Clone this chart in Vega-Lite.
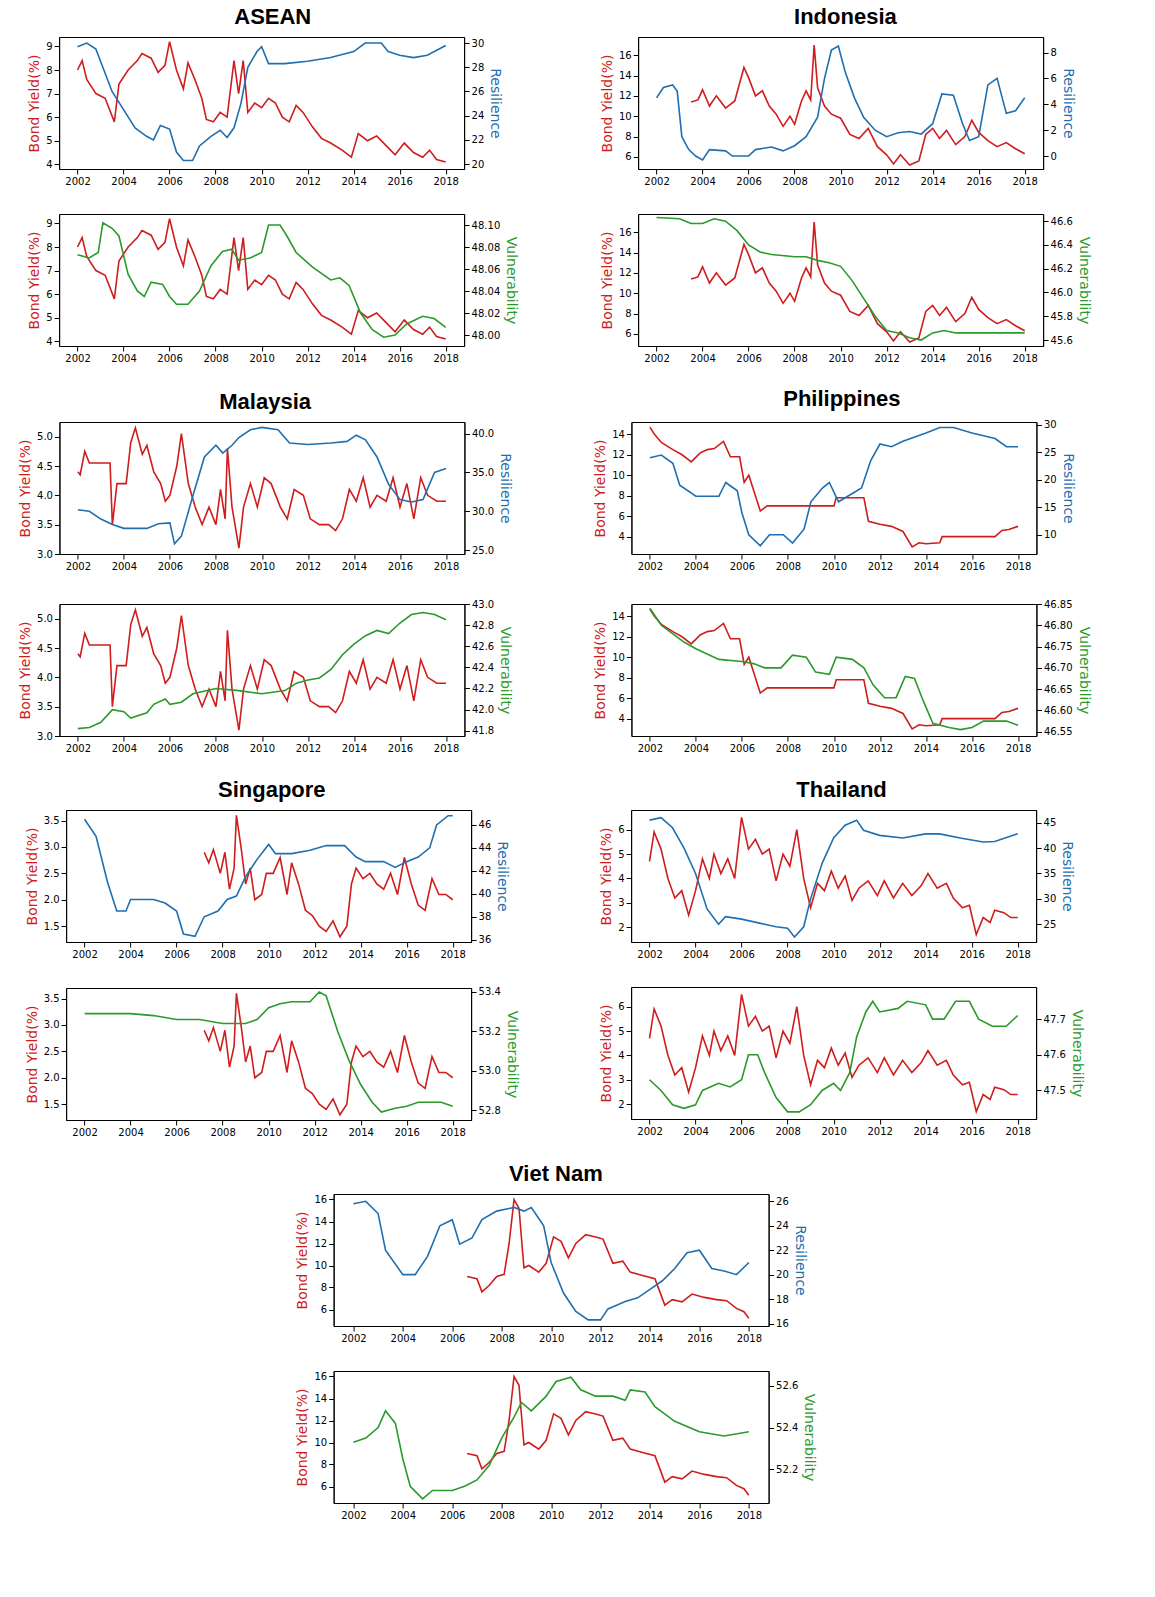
{
  "$schema": "https://vega.github.io/schema/vega-lite/v6.json",
  "background": "white",
  "padding": {"left": 18, "top": 5, "right": 5, "bottom": 5},
  "datasets": {
    "Ay": [{"t":2002,"v":8.0},{"t":2002.2,"v":8.4},{"t":2002.4,"v":7.6},{"t":2002.8,"v":7.0},{"t":2003.2,"v":6.8},{"t":2003.6,"v":5.8},{"t":2003.8,"v":7.4},{"t":2004.2,"v":8.0},{"t":2004.6,"v":8.4},{"t":2004.8,"v":8.7},{"t":2005.2,"v":8.5},{"t":2005.5,"v":7.9},{"t":2005.8,"v":8.2},{"t":2006.0,"v":9.2},{"t":2006.3,"v":8.0},{"t":2006.6,"v":7.2},{"t":2006.8,"v":8.3},{"t":2007.1,"v":7.6},{"t":2007.4,"v":6.8},{"t":2007.6,"v":5.9},{"t":2007.9,"v":5.8},{"t":2008.2,"v":6.2},{"t":2008.5,"v":6.0},{"t":2008.8,"v":8.4},{"t":2009.0,"v":7.0},{"t":2009.2,"v":8.4},{"t":2009.4,"v":6.2},{"t":2009.7,"v":6.6},{"t":2010.0,"v":6.4},{"t":2010.3,"v":6.8},{"t":2010.6,"v":6.6},{"t":2010.9,"v":6.0},{"t":2011.2,"v":5.8},{"t":2011.5,"v":6.5},{"t":2011.8,"v":6.2},{"t":2012.2,"v":5.6},{"t":2012.6,"v":5.1},{"t":2013.0,"v":4.9},{"t":2013.5,"v":4.6},{"t":2013.9,"v":4.3},{"t":2014.2,"v":5.3},{"t":2014.6,"v":5.0},{"t":2015.0,"v":5.2},{"t":2015.4,"v":4.8},{"t":2015.8,"v":4.4},{"t":2016.2,"v":4.9},{"t":2016.6,"v":4.5},{"t":2017.0,"v":4.3},{"t":2017.3,"v":4.6},{"t":2017.6,"v":4.2},{"t":2018.0,"v":4.1}],
    "Ar": [{"t":2002,"v":29.7},{"t":2002.4,"v":30},{"t":2002.8,"v":29.5},{"t":2003,"v":28.5},{"t":2003.5,"v":26},{"t":2004,"v":24.5},{"t":2004.5,"v":23},{"t":2005,"v":22.3},{"t":2005.3,"v":22},{"t":2005.6,"v":23.2},{"t":2006,"v":22.9},{"t":2006.3,"v":21},{"t":2006.6,"v":20.3},{"t":2007,"v":20.3},{"t":2007.3,"v":21.5},{"t":2007.8,"v":22.3},{"t":2008.2,"v":22.8},{"t":2008.5,"v":22.2},{"t":2008.8,"v":23},{"t":2009.1,"v":25},{"t":2009.4,"v":28},{"t":2009.8,"v":29.3},{"t":2010,"v":29.7},{"t":2010.3,"v":28.3},{"t":2011,"v":28.3},{"t":2012,"v":28.5},{"t":2013,"v":28.8},{"t":2014,"v":29.3},{"t":2014.5,"v":30},{"t":2015.2,"v":30},{"t":2015.5,"v":29.3},{"t":2016,"v":29},{"t":2016.6,"v":28.8},{"t":2017.2,"v":29},{"t":2018,"v":29.8}],
    "Au": [{"t":2002,"v":48.073},{"t":2002.5,"v":48.07},{"t":2002.9,"v":48.075},{"t":2003.1,"v":48.102},{"t":2003.5,"v":48.097},{"t":2003.8,"v":48.09},{"t":2004.2,"v":48.055},{"t":2004.6,"v":48.04},{"t":2004.9,"v":48.035},{"t":2005.2,"v":48.048},{"t":2005.7,"v":48.046},{"t":2006,"v":48.035},{"t":2006.3,"v":48.028},{"t":2006.8,"v":48.028},{"t":2007.3,"v":48.04},{"t":2007.8,"v":48.063},{"t":2008.3,"v":48.076},{"t":2008.7,"v":48.078},{"t":2009,"v":48.068},{"t":2009.5,"v":48.07},{"t":2010,"v":48.075},{"t":2010.3,"v":48.1},{"t":2010.8,"v":48.1},{"t":2011.1,"v":48.09},{"t":2011.5,"v":48.075},{"t":2012.2,"v":48.062},{"t":2013,"v":48.05},{"t":2013.4,"v":48.052},{"t":2013.8,"v":48.045},{"t":2014.3,"v":48.02},{"t":2014.8,"v":48.005},{"t":2015.3,"v":47.998},{"t":2015.8,"v":48.0},{"t":2016.3,"v":48.01},{"t":2017,"v":48.017},{"t":2017.5,"v":48.015},{"t":2018,"v":48.007}],
    "Iy": [{"t":2003.5,"v":11.4},{"t":2003.8,"v":11.6},{"t":2004.0,"v":12.6},{"t":2004.3,"v":11.0},{"t":2004.6,"v":12.0},{"t":2005.0,"v":10.8},{"t":2005.4,"v":11.5},{"t":2005.8,"v":14.8},{"t":2006.0,"v":13.8},{"t":2006.3,"v":12.0},{"t":2006.6,"v":12.5},{"t":2006.9,"v":11.0},{"t":2007.2,"v":10.2},{"t":2007.5,"v":9.0},{"t":2007.8,"v":10.0},{"t":2008.0,"v":9.2},{"t":2008.3,"v":11.5},{"t":2008.5,"v":12.5},{"t":2008.7,"v":11.6},{"t":2008.85,"v":17.0},{"t":2009.0,"v":12.8},{"t":2009.3,"v":11.0},{"t":2009.6,"v":10.2},{"t":2010,"v":9.8},{"t":2010.4,"v":8.2},{"t":2010.8,"v":7.8},{"t":2011.2,"v":8.8},{"t":2011.6,"v":7.0},{"t":2012.0,"v":6.2},{"t":2012.3,"v":5.3},{"t":2012.6,"v":6.2},{"t":2013.0,"v":5.2},{"t":2013.4,"v":5.6},{"t":2013.7,"v":8.2},{"t":2014.0,"v":8.8},{"t":2014.3,"v":7.8},{"t":2014.6,"v":8.6},{"t":2015.0,"v":7.2},{"t":2015.4,"v":8.0},{"t":2015.7,"v":9.6},{"t":2016.0,"v":8.4},{"t":2016.4,"v":7.6},{"t":2016.8,"v":7.0},{"t":2017.2,"v":7.4},{"t":2017.6,"v":6.8},{"t":2018,"v":6.3}],
    "Ir": [{"t":2002,"v":4.5},{"t":2002.3,"v":5.3},{"t":2002.7,"v":5.5},{"t":2002.9,"v":5.0},{"t":2003.1,"v":1.5},{"t":2003.4,"v":0.5},{"t":2003.7,"v":0},{"t":2004.0,"v":-0.3},{"t":2004.3,"v":0.5},{"t":2005,"v":0.4},{"t":2005.3,"v":0},{"t":2006,"v":0},{"t":2006.3,"v":0.5},{"t":2007,"v":0.7},{"t":2007.5,"v":0.4},{"t":2008,"v":0.8},{"t":2008.5,"v":1.5},{"t":2009,"v":3.0},{"t":2009.3,"v":6},{"t":2009.6,"v":8.2},{"t":2009.9,"v":8.5},{"t":2010.2,"v":6.5},{"t":2010.6,"v":4.5},{"t":2011,"v":3.0},{"t":2011.5,"v":2.0},{"t":2012,"v":1.5},{"t":2012.5,"v":1.8},{"t":2013,"v":1.9},{"t":2013.5,"v":1.7},{"t":2014,"v":2.5},{"t":2014.4,"v":4.8},{"t":2014.9,"v":4.7},{"t":2015.3,"v":2.5},{"t":2015.6,"v":1.2},{"t":2016,"v":1.5},{"t":2016.4,"v":5.5},{"t":2016.8,"v":6},{"t":2017.2,"v":3.3},{"t":2017.6,"v":3.5},{"t":2018,"v":4.5}],
    "Iu": [{"t":2002,"v":46.63},{"t":2003,"v":46.62},{"t":2003.5,"v":46.58},{"t":2004,"v":46.58},{"t":2004.5,"v":46.62},{"t":2005,"v":46.6},{"t":2005.5,"v":46.52},{"t":2006,"v":46.4},{"t":2006.5,"v":46.34},{"t":2007,"v":46.32},{"t":2008,"v":46.3},{"t":2008.5,"v":46.3},{"t":2009,"v":46.27},{"t":2009.5,"v":46.25},{"t":2010,"v":46.22},{"t":2010.5,"v":46.1},{"t":2011,"v":45.95},{"t":2011.5,"v":45.8},{"t":2012,"v":45.68},{"t":2012.5,"v":45.66},{"t":2013,"v":45.62},{"t":2013.5,"v":45.6},{"t":2014,"v":45.66},{"t":2014.5,"v":45.68},{"t":2015,"v":45.66},{"t":2016,"v":45.66},{"t":2018,"v":45.66}],
    "My": [{"t":2002,"v":4.4},{"t":2002.1,"v":4.35},{"t":2002.3,"v":4.75},{"t":2002.5,"v":4.55},{"t":2003.4,"v":4.55},{"t":2003.5,"v":3.5},{"t":2003.7,"v":4.2},{"t":2004.1,"v":4.2},{"t":2004.3,"v":4.9},{"t":2004.5,"v":5.15},{"t":2004.8,"v":4.7},{"t":2005,"v":4.85},{"t":2005.3,"v":4.4},{"t":2005.6,"v":4.2},{"t":2005.8,"v":3.9},{"t":2006.0,"v":4.0},{"t":2006.3,"v":4.5},{"t":2006.5,"v":5.05},{"t":2006.8,"v":4.2},{"t":2007.1,"v":3.8},{"t":2007.4,"v":3.5},{"t":2007.7,"v":3.8},{"t":2008,"v":3.5},{"t":2008.2,"v":4.1},{"t":2008.4,"v":3.6},{"t":2008.5,"v":4.8},{"t":2008.7,"v":3.8},{"t":2009.0,"v":3.1},{"t":2009.2,"v":3.8},{"t":2009.5,"v":4.2},{"t":2009.8,"v":3.8},{"t":2010.1,"v":4.3},{"t":2010.4,"v":4.2},{"t":2010.8,"v":3.8},{"t":2011.1,"v":3.6},{"t":2011.4,"v":4.1},{"t":2011.8,"v":4.0},{"t":2012.1,"v":3.6},{"t":2012.5,"v":3.5},{"t":2012.9,"v":3.5},{"t":2013.2,"v":3.4},{"t":2013.5,"v":3.6},{"t":2013.8,"v":4.1},{"t":2014.1,"v":3.9},{"t":2014.4,"v":4.3},{"t":2014.7,"v":3.8},{"t":2015.0,"v":4.0},{"t":2015.4,"v":3.9},{"t":2015.7,"v":4.3},{"t":2016.0,"v":3.8},{"t":2016.3,"v":4.2},{"t":2016.6,"v":3.6},{"t":2016.9,"v":4.3},{"t":2017.2,"v":4.0},{"t":2017.6,"v":3.9},{"t":2018,"v":3.9}],
    "Mr": [{"t":2002,"v":30.2},{"t":2002.5,"v":30},{"t":2003,"v":29},{"t":2003.5,"v":28.3},{"t":2004,"v":27.8},{"t":2005,"v":27.8},{"t":2005.5,"v":28.4},{"t":2006,"v":28.5},{"t":2006.2,"v":25.8},{"t":2006.5,"v":26.8},{"t":2007,"v":32},{"t":2007.5,"v":37},{"t":2008,"v":38.5},{"t":2008.3,"v":37.5},{"t":2008.7,"v":38.5},{"t":2009,"v":39.5},{"t":2009.5,"v":40.5},{"t":2010,"v":40.8},{"t":2010.7,"v":40.5},{"t":2011.2,"v":38.8},{"t":2012,"v":38.6},{"t":2013,"v":38.8},{"t":2013.7,"v":39},{"t":2014.1,"v":39.8},{"t":2014.5,"v":39.2},{"t":2015,"v":37},{"t":2015.5,"v":33.5},{"t":2016,"v":31.5},{"t":2016.5,"v":31.2},{"t":2017,"v":31.5},{"t":2017.5,"v":35},{"t":2018,"v":35.5}],
    "Mu": [{"t":2002,"v":41.82},{"t":2002.5,"v":41.83},{"t":2003,"v":41.88},{"t":2003.5,"v":42.0},{"t":2004,"v":41.98},{"t":2004.3,"v":41.92},{"t":2005,"v":41.97},{"t":2005.3,"v":42.05},{"t":2005.8,"v":42.1},{"t":2006,"v":42.05},{"t":2006.5,"v":42.07},{"t":2007,"v":42.15},{"t":2008,"v":42.2},{"t":2009,"v":42.18},{"t":2010,"v":42.15},{"t":2011,"v":42.18},{"t":2011.5,"v":42.25},{"t":2012,"v":42.28},{"t":2012.5,"v":42.3},{"t":2013,"v":42.38},{"t":2013.5,"v":42.52},{"t":2014,"v":42.62},{"t":2014.5,"v":42.7},{"t":2015,"v":42.75},{"t":2015.5,"v":42.72},{"t":2016,"v":42.82},{"t":2016.5,"v":42.9},{"t":2017,"v":42.92},{"t":2017.5,"v":42.9},{"t":2018,"v":42.85}],
    "Py": [{"t":2002,"v":14.7},{"t":2002.2,"v":14.0},{"t":2002.5,"v":13.2},{"t":2003,"v":12.5},{"t":2003.4,"v":12.0},{"t":2003.8,"v":11.3},{"t":2004.2,"v":12.2},{"t":2004.5,"v":12.5},{"t":2004.8,"v":12.6},{"t":2005.2,"v":13.3},{"t":2005.5,"v":11.8},{"t":2005.9,"v":11.8},{"t":2006.1,"v":9.3},{"t":2006.3,"v":10.0},{"t":2006.5,"v":8.6},{"t":2006.8,"v":6.5},{"t":2007.1,"v":7.0},{"t":2010.0,"v":7.0},{"t":2010.1,"v":7.8},{"t":2011.3,"v":7.8},{"t":2011.5,"v":5.5},{"t":2012,"v":5.2},{"t":2012.5,"v":5.0},{"t":2013,"v":4.5},{"t":2013.4,"v":3.0},{"t":2013.7,"v":3.4},{"t":2014.0,"v":3.3},{"t":2014.6,"v":3.4},{"t":2014.7,"v":4.0},{"t":2017.0,"v":4.0},{"t":2017.3,"v":4.6},{"t":2017.6,"v":4.7},{"t":2018,"v":5.0}],
    "Pr": [{"t":2002,"v":24},{"t":2002.5,"v":24.5},{"t":2003,"v":23},{"t":2003.3,"v":19},{"t":2004,"v":17},{"t":2005,"v":17},{"t":2005.3,"v":19.5},{"t":2005.8,"v":18},{"t":2006,"v":14},{"t":2006.3,"v":10},{"t":2006.8,"v":8},{"t":2007.2,"v":10},{"t":2007.8,"v":10},{"t":2008.2,"v":8.5},{"t":2008.7,"v":11},{"t":2009,"v":16},{"t":2009.5,"v":18.5},{"t":2009.8,"v":19.5},{"t":2010.2,"v":16},{"t":2010.6,"v":17},{"t":2011.2,"v":18.5},{"t":2011.6,"v":23.5},{"t":2012,"v":26.5},{"t":2012.5,"v":26},{"t":2013,"v":27},{"t":2014,"v":28.5},{"t":2014.6,"v":29.5},{"t":2015.2,"v":29.5},{"t":2016,"v":28.5},{"t":2017,"v":27.5},{"t":2017.5,"v":26},{"t":2018,"v":26}],
    "Pu": [{"t":2002,"v":46.84},{"t":2002.5,"v":46.8},{"t":2003,"v":46.78},{"t":2003.5,"v":46.76},{"t":2004,"v":46.745},{"t":2005,"v":46.72},{"t":2006,"v":46.715},{"t":2006.5,"v":46.71},{"t":2007,"v":46.7},{"t":2007.7,"v":46.7},{"t":2008.2,"v":46.73},{"t":2008.8,"v":46.725},{"t":2009.2,"v":46.69},{"t":2009.8,"v":46.685},{"t":2010.1,"v":46.725},{"t":2010.8,"v":46.72},{"t":2011.3,"v":46.7},{"t":2011.7,"v":46.66},{"t":2012.2,"v":46.63},{"t":2012.7,"v":46.63},{"t":2013.1,"v":46.68},{"t":2013.5,"v":46.675},{"t":2013.9,"v":46.62},{"t":2014.3,"v":46.57},{"t":2015,"v":46.56},{"t":2015.5,"v":46.555},{"t":2016,"v":46.56},{"t":2016.5,"v":46.575},{"t":2017.5,"v":46.575},{"t":2018,"v":46.565}],
    "Sy": [{"t":2007.2,"v":2.9},{"t":2007.4,"v":2.7},{"t":2007.6,"v":2.95},{"t":2007.9,"v":2.5},{"t":2008.1,"v":2.9},{"t":2008.3,"v":2.2},{"t":2008.5,"v":2.6},{"t":2008.6,"v":3.6},{"t":2008.8,"v":3.0},{"t":2009.0,"v":2.3},{"t":2009.2,"v":2.6},{"t":2009.4,"v":2.0},{"t":2009.7,"v":2.1},{"t":2009.9,"v":2.5},{"t":2010.2,"v":2.5},{"t":2010.5,"v":2.8},{"t":2010.8,"v":2.1},{"t":2011.0,"v":2.7},{"t":2011.3,"v":2.3},{"t":2011.6,"v":1.8},{"t":2011.9,"v":1.7},{"t":2012.2,"v":1.5},{"t":2012.5,"v":1.4},{"t":2012.8,"v":1.6},{"t":2013.1,"v":1.3},{"t":2013.4,"v":1.5},{"t":2013.6,"v":2.3},{"t":2013.8,"v":2.6},{"t":2014.1,"v":2.4},{"t":2014.4,"v":2.5},{"t":2014.7,"v":2.3},{"t":2015.0,"v":2.2},{"t":2015.3,"v":2.5},{"t":2015.6,"v":2.1},{"t":2015.9,"v":2.8},{"t":2016.2,"v":2.3},{"t":2016.5,"v":1.9},{"t":2016.8,"v":1.8},{"t":2017.1,"v":2.4},{"t":2017.4,"v":2.1},{"t":2017.7,"v":2.1},{"t":2018,"v":2.0}],
    "Sr": [{"t":2002,"v":46.5},{"t":2002.5,"v":45},{"t":2003,"v":41},{"t":2003.4,"v":38.5},{"t":2003.8,"v":38.5},{"t":2004,"v":39.5},{"t":2005,"v":39.5},{"t":2005.5,"v":39.2},{"t":2006,"v":38.5},{"t":2006.3,"v":36.5},{"t":2006.8,"v":36.3},{"t":2007.2,"v":38},{"t":2007.8,"v":38.5},{"t":2008.2,"v":39.5},{"t":2008.6,"v":39.8},{"t":2009,"v":41.5},{"t":2009.5,"v":43},{"t":2010,"v":44.3},{"t":2010.3,"v":43.5},{"t":2011,"v":43.5},{"t":2011.8,"v":43.8},{"t":2012.5,"v":44.2},{"t":2013.3,"v":44.2},{"t":2013.8,"v":43.2},{"t":2014.2,"v":42.8},{"t":2015,"v":42.8},{"t":2015.5,"v":42.3},{"t":2016,"v":42.8},{"t":2016.5,"v":43.2},{"t":2017,"v":44},{"t":2017.3,"v":46},{"t":2017.8,"v":46.8},{"t":2018,"v":46.8}],
    "Su": [{"t":2002,"v":53.29},{"t":2004,"v":53.29},{"t":2005,"v":53.28},{"t":2006,"v":53.26},{"t":2007,"v":53.26},{"t":2008,"v":53.24},{"t":2009,"v":53.24},{"t":2009.5,"v":53.26},{"t":2010,"v":53.32},{"t":2010.5,"v":53.34},{"t":2011,"v":53.35},{"t":2011.8,"v":53.35},{"t":2012.2,"v":53.4},{"t":2012.5,"v":53.38},{"t":2013,"v":53.2},{"t":2013.5,"v":53.05},{"t":2014,"v":52.93},{"t":2014.5,"v":52.84},{"t":2014.9,"v":52.79},{"t":2015.5,"v":52.81},{"t":2016,"v":52.82},{"t":2016.5,"v":52.84},{"t":2017.5,"v":52.84},{"t":2018,"v":52.82}],
    "Ty": [{"t":2002,"v":4.7},{"t":2002.2,"v":5.9},{"t":2002.5,"v":5.2},{"t":2002.8,"v":4.0},{"t":2003.1,"v":3.2},{"t":2003.4,"v":3.5},{"t":2003.7,"v":2.5},{"t":2004,"v":3.5},{"t":2004.3,"v":4.8},{"t":2004.6,"v":4.0},{"t":2004.8,"v":5.0},{"t":2005.1,"v":4.2},{"t":2005.4,"v":4.8},{"t":2005.7,"v":4.0},{"t":2006.0,"v":6.5},{"t":2006.3,"v":5.2},{"t":2006.6,"v":5.6},{"t":2006.9,"v":5.0},{"t":2007.2,"v":5.2},{"t":2007.5,"v":3.9},{"t":2007.8,"v":5.0},{"t":2008.1,"v":4.5},{"t":2008.4,"v":6.0},{"t":2008.7,"v":4.0},{"t":2009,"v":2.8},{"t":2009.3,"v":3.8},{"t":2009.6,"v":3.5},{"t":2009.9,"v":4.3},{"t":2010.2,"v":3.6},{"t":2010.5,"v":4.1},{"t":2010.8,"v":3.1},{"t":2011.1,"v":3.6},{"t":2011.5,"v":3.9},{"t":2011.9,"v":3.3},{"t":2012.2,"v":3.9},{"t":2012.6,"v":3.2},{"t":2013.0,"v":3.8},{"t":2013.4,"v":3.3},{"t":2013.8,"v":3.7},{"t":2014.1,"v":4.2},{"t":2014.5,"v":3.6},{"t":2014.9,"v":3.8},{"t":2015.2,"v":3.2},{"t":2015.6,"v":2.8},{"t":2015.9,"v":2.9},{"t":2016.2,"v":1.7},{"t":2016.5,"v":2.4},{"t":2016.8,"v":2.2},{"t":2017.0,"v":2.7},{"t":2017.4,"v":2.6},{"t":2017.7,"v":2.4},{"t":2018,"v":2.4}],
    "Tr": [{"t":2002,"v":45.5},{"t":2002.5,"v":46},{"t":2003,"v":44},{"t":2003.5,"v":40},{"t":2004,"v":35},{"t":2004.5,"v":28},{"t":2005,"v":25},{"t":2005.3,"v":26.5},{"t":2006,"v":26},{"t":2007,"v":25},{"t":2007.5,"v":24.5},{"t":2008,"v":24.2},{"t":2008.3,"v":22.5},{"t":2008.7,"v":24.5},{"t":2009,"v":30},{"t":2009.5,"v":37},{"t":2010,"v":42},{"t":2010.5,"v":44.5},{"t":2011,"v":45.5},{"t":2011.3,"v":43.5},{"t":2012,"v":42.5},{"t":2013,"v":42},{"t":2014,"v":42.8},{"t":2014.6,"v":42.8},{"t":2015.5,"v":42},{"t":2016.5,"v":41.2},{"t":2017,"v":41.3},{"t":2018,"v":42.8}],
    "Tu": [{"t":2002,"v":47.53},{"t":2002.5,"v":47.5},{"t":2003,"v":47.46},{"t":2003.5,"v":47.45},{"t":2004,"v":47.46},{"t":2004.3,"v":47.5},{"t":2005,"v":47.52},{"t":2005.5,"v":47.51},{"t":2006,"v":47.53},{"t":2006.3,"v":47.6},{"t":2006.7,"v":47.6},{"t":2007,"v":47.55},{"t":2007.5,"v":47.48},{"t":2008,"v":47.44},{"t":2008.5,"v":47.44},{"t":2009,"v":47.46},{"t":2009.5,"v":47.5},{"t":2010,"v":47.52},{"t":2010.3,"v":47.5},{"t":2010.7,"v":47.55},{"t":2011,"v":47.65},{"t":2011.4,"v":47.72},{"t":2011.7,"v":47.75},{"t":2012,"v":47.72},{"t":2012.8,"v":47.73},{"t":2013.2,"v":47.75},{"t":2014,"v":47.74},{"t":2014.3,"v":47.7},{"t":2014.8,"v":47.7},{"t":2015.3,"v":47.75},{"t":2015.9,"v":47.75},{"t":2016.3,"v":47.7},{"t":2016.9,"v":47.68},{"t":2017.5,"v":47.68},{"t":2018,"v":47.71}],
    "Vy": [{"t":2006.6,"v":9.0},{"t":2007.0,"v":8.8},{"t":2007.2,"v":7.6},{"t":2007.5,"v":8.2},{"t":2007.8,"v":9.0},{"t":2008.1,"v":9.2},{"t":2008.3,"v":12.0},{"t":2008.5,"v":16.0},{"t":2008.7,"v":15.2},{"t":2008.9,"v":9.8},{"t":2009.1,"v":10.0},{"t":2009.5,"v":9.4},{"t":2009.8,"v":10.2},{"t":2010.1,"v":12.6},{"t":2010.4,"v":12.2},{"t":2010.7,"v":10.7},{"t":2011,"v":12.0},{"t":2011.4,"v":12.8},{"t":2011.8,"v":12.6},{"t":2012.1,"v":12.4},{"t":2012.5,"v":10.2},{"t":2012.9,"v":10.4},{"t":2013.2,"v":9.4},{"t":2013.7,"v":9.1},{"t":2014.2,"v":8.8},{"t":2014.4,"v":7.6},{"t":2014.6,"v":6.4},{"t":2014.9,"v":6.9},{"t":2015.3,"v":6.7},{"t":2015.7,"v":7.4},{"t":2016.2,"v":7.1},{"t":2016.7,"v":6.9},{"t":2017.1,"v":6.8},{"t":2017.5,"v":6.1},{"t":2017.8,"v":5.8},{"t":2018,"v":5.2}],
    "Vr": [{"t":2002,"v":25.8},{"t":2002.5,"v":26},{"t":2003,"v":25},{"t":2003.3,"v":22},{"t":2004,"v":20},{"t":2004.5,"v":20},{"t":2005,"v":21.5},{"t":2005.5,"v":24},{"t":2006,"v":24.5},{"t":2006.3,"v":22.5},{"t":2006.8,"v":23},{"t":2007.2,"v":24.5},{"t":2007.8,"v":25.2},{"t":2008.5,"v":25.5},{"t":2008.9,"v":25.2},{"t":2009.2,"v":25.5},{"t":2009.7,"v":24},{"t":2010,"v":21},{"t":2010.5,"v":18.5},{"t":2011,"v":17},{"t":2011.5,"v":16.3},{"t":2012,"v":16.3},{"t":2012.3,"v":17.2},{"t":2013,"v":17.8},{"t":2013.5,"v":18.1},{"t":2014,"v":18.8},{"t":2014.5,"v":19.5},{"t":2015,"v":20.5},{"t":2015.5,"v":21.8},{"t":2016,"v":22},{"t":2016.5,"v":20.5},{"t":2017,"v":20.3},{"t":2017.5,"v":20},{"t":2018,"v":21}],
    "Vu": [{"t":2002,"v":52.33},{"t":2002.5,"v":52.35},{"t":2003,"v":52.4},{"t":2003.3,"v":52.48},{"t":2003.7,"v":52.42},{"t":2004,"v":52.25},{"t":2004.3,"v":52.12},{"t":2004.8,"v":52.06},{"t":2005.2,"v":52.1},{"t":2006,"v":52.1},{"t":2006.5,"v":52.12},{"t":2007,"v":52.15},{"t":2007.5,"v":52.22},{"t":2008,"v":52.35},{"t":2008.5,"v":52.45},{"t":2008.8,"v":52.52},{"t":2009.2,"v":52.48},{"t":2009.8,"v":52.55},{"t":2010.2,"v":52.62},{"t":2010.8,"v":52.64},{"t":2011.2,"v":52.58},{"t":2011.8,"v":52.55},{"t":2012.5,"v":52.55},{"t":2013,"v":52.53},{"t":2013.2,"v":52.58},{"t":2013.8,"v":52.57},{"t":2014.2,"v":52.5},{"t":2015,"v":52.43},{"t":2016,"v":52.38},{"t":2017,"v":52.36},{"t":2018,"v":52.38}]
  },
  "vconcat": [
    {"hconcat": [
      {"title": "ASEAN", "spacing": 26, "vconcat": [
        {"width": 405, "height": 132, "resolve": {"scale": {"y": "independent"}}, "layer": [
          {"data": {"name": "Ay"}, "mark": {"type": "line", "color": "#d01c1c"}, "encoding": {"x": {"field": "t", "type": "quantitative", "scale": {"domain": [2001.2, 2018.8], "nice": false}, "axis": {"values": [2002,2004,2006,2008,2010,2012,2014,2016,2018], "format": "d", "title": null}}, "y": {"field": "v", "type": "quantitative", "scale": {"domain": [3.8, 9.4], "nice": false, "zero": false}, "axis": {"title": "Bond Yield(%)", "titleColor": "#d01c1c"}}}},
          {"data": {"name": "Ar"}, "mark": {"type": "line", "color": "#1f6fb0"}, "encoding": {"x": {"field": "t", "type": "quantitative"}, "y": {"field": "v", "type": "quantitative", "scale": {"domain": [19.6, 30.5], "nice": false, "zero": false}, "axis": {"orient": "right", "title": "Resilience", "titleColor": "#1f6fb0"}}}}
        ]},
        {"width": 405, "height": 132, "resolve": {"scale": {"y": "independent"}}, "layer": [
          {"data": {"name": "Ay"}, "mark": {"type": "line", "color": "#d01c1c"}, "encoding": {"x": {"field": "t", "type": "quantitative", "scale": {"domain": [2001.2, 2018.8], "nice": false}, "axis": {"values": [2002,2004,2006,2008,2010,2012,2014,2016,2018], "format": "d", "title": null}}, "y": {"field": "v", "type": "quantitative", "scale": {"domain": [3.8, 9.4], "nice": false, "zero": false}, "axis": {"title": "Bond Yield(%)", "titleColor": "#d01c1c"}}}},
          {"data": {"name": "Au"}, "mark": {"type": "line", "color": "#2a9a2a"}, "encoding": {"x": {"field": "t", "type": "quantitative"}, "y": {"field": "v", "type": "quantitative", "scale": {"domain": [47.99, 48.11], "nice": false, "zero": false}, "axis": {"orient": "right", "title": "Vulnerability", "titleColor": "#2a9a2a", "format": ".2f"}}}}
        ]}
      ]},
      {"title": "Indonesia", "spacing": 26, "vconcat": [
        {"width": 405, "height": 132, "resolve": {"scale": {"y": "independent"}}, "layer": [
          {"data": {"name": "Iy"}, "mark": {"type": "line", "color": "#d01c1c"}, "encoding": {"x": {"field": "t", "type": "quantitative", "scale": {"domain": [2001.2, 2018.8], "nice": false}, "axis": {"values": [2002,2004,2006,2008,2010,2012,2014,2016,2018], "format": "d", "title": null}}, "y": {"field": "v", "type": "quantitative", "scale": {"domain": [4.8, 17.8], "nice": false, "zero": false}, "axis": {"title": "Bond Yield(%)", "titleColor": "#d01c1c", "values": [6,8,10,12,14,16]}}}},
          {"data": {"name": "Ir"}, "mark": {"type": "line", "color": "#1f6fb0"}, "encoding": {"x": {"field": "t", "type": "quantitative"}, "y": {"field": "v", "type": "quantitative", "scale": {"domain": [-1, 9.2], "nice": false, "zero": false}, "axis": {"orient": "right", "title": "Resilience", "titleColor": "#1f6fb0"}}}}
        ]},
        {"width": 405, "height": 132, "resolve": {"scale": {"y": "independent"}}, "layer": [
          {"data": {"name": "Iy"}, "mark": {"type": "line", "color": "#d01c1c"}, "encoding": {"x": {"field": "t", "type": "quantitative", "scale": {"domain": [2001.2, 2018.8], "nice": false}, "axis": {"values": [2002,2004,2006,2008,2010,2012,2014,2016,2018], "format": "d", "title": null}}, "y": {"field": "v", "type": "quantitative", "scale": {"domain": [4.8, 17.8], "nice": false, "zero": false}, "axis": {"title": "Bond Yield(%)", "titleColor": "#d01c1c", "values": [6,8,10,12,14,16]}}}},
          {"data": {"name": "Iu"}, "mark": {"type": "line", "color": "#2a9a2a"}, "encoding": {"x": {"field": "t", "type": "quantitative"}, "y": {"field": "v", "type": "quantitative", "scale": {"domain": [45.55, 46.66], "nice": false, "zero": false}, "axis": {"orient": "right", "title": "Vulnerability", "titleColor": "#2a9a2a", "format": ".1f"}}}}
        ]}
      ]}
    ]},
    {"hconcat": [
      {"title": "Malaysia", "spacing": 26, "vconcat": [
        {"width": 405, "height": 132, "resolve": {"scale": {"y": "independent"}}, "layer": [
          {"data": {"name": "My"}, "mark": {"type": "line", "color": "#d01c1c"}, "encoding": {"x": {"field": "t", "type": "quantitative", "scale": {"domain": [2001.2, 2018.8], "nice": false}, "axis": {"values": [2002,2004,2006,2008,2010,2012,2014,2016,2018], "format": "d", "title": null}}, "y": {"field": "v", "type": "quantitative", "scale": {"domain": [3.0, 5.25], "nice": false, "zero": false}, "axis": {"title": "Bond Yield(%)", "titleColor": "#d01c1c", "format": ".1f"}}}},
          {"data": {"name": "Mr"}, "mark": {"type": "line", "color": "#1f6fb0"}, "encoding": {"x": {"field": "t", "type": "quantitative"}, "y": {"field": "v", "type": "quantitative", "scale": {"domain": [24.5, 41.5], "nice": false, "zero": false}, "axis": {"orient": "right", "title": "Resilience", "titleColor": "#1f6fb0", "format": ".1f"}}}}
        ]},
        {"width": 405, "height": 132, "resolve": {"scale": {"y": "independent"}}, "layer": [
          {"data": {"name": "My"}, "mark": {"type": "line", "color": "#d01c1c"}, "encoding": {"x": {"field": "t", "type": "quantitative", "scale": {"domain": [2001.2, 2018.8], "nice": false}, "axis": {"values": [2002,2004,2006,2008,2010,2012,2014,2016,2018], "format": "d", "title": null}}, "y": {"field": "v", "type": "quantitative", "scale": {"domain": [3.0, 5.25], "nice": false, "zero": false}, "axis": {"title": "Bond Yield(%)", "titleColor": "#d01c1c", "format": ".1f"}}}},
          {"data": {"name": "Mu"}, "mark": {"type": "line", "color": "#2a9a2a"}, "encoding": {"x": {"field": "t", "type": "quantitative"}, "y": {"field": "v", "type": "quantitative", "scale": {"domain": [41.75, 43.0], "nice": false, "zero": false}, "axis": {"orient": "right", "title": "Vulnerability", "titleColor": "#2a9a2a", "format": ".1f"}}}}
        ]}
      ]},
      {"title": "Philippines", "spacing": 26, "vconcat": [
        {"width": 405, "height": 132, "resolve": {"scale": {"y": "independent"}}, "layer": [
          {"data": {"name": "Py"}, "mark": {"type": "line", "color": "#d01c1c"}, "encoding": {"x": {"field": "t", "type": "quantitative", "scale": {"domain": [2001.2, 2018.8], "nice": false}, "axis": {"values": [2002,2004,2006,2008,2010,2012,2014,2016,2018], "format": "d", "title": null}}, "y": {"field": "v", "type": "quantitative", "scale": {"domain": [2.3, 15.2], "nice": false, "zero": false}, "axis": {"title": "Bond Yield(%)", "titleColor": "#d01c1c", "values": [4,6,8,10,12,14]}}}},
          {"data": {"name": "Pr"}, "mark": {"type": "line", "color": "#1f6fb0"}, "encoding": {"x": {"field": "t", "type": "quantitative"}, "y": {"field": "v", "type": "quantitative", "scale": {"domain": [6.5, 30.5], "nice": false, "zero": false}, "axis": {"orient": "right", "title": "Resilience", "titleColor": "#1f6fb0"}}}}
        ]},
        {"width": 405, "height": 132, "resolve": {"scale": {"y": "independent"}}, "layer": [
          {"data": {"name": "Py"}, "mark": {"type": "line", "color": "#d01c1c"}, "encoding": {"x": {"field": "t", "type": "quantitative", "scale": {"domain": [2001.2, 2018.8], "nice": false}, "axis": {"values": [2002,2004,2006,2008,2010,2012,2014,2016,2018], "format": "d", "title": null}}, "y": {"field": "v", "type": "quantitative", "scale": {"domain": [2.3, 15.2], "nice": false, "zero": false}, "axis": {"title": "Bond Yield(%)", "titleColor": "#d01c1c", "values": [4,6,8,10,12,14]}}}},
          {"data": {"name": "Pu"}, "mark": {"type": "line", "color": "#2a9a2a"}, "encoding": {"x": {"field": "t", "type": "quantitative"}, "y": {"field": "v", "type": "quantitative", "scale": {"domain": [46.54, 46.85], "nice": false, "zero": false}, "axis": {"orient": "right", "title": "Vulnerability", "titleColor": "#2a9a2a", "format": ".2f", "values": [46.55,46.6,46.65,46.7,46.75,46.8,46.85]}}}}
        ]}
      ]}
    ]},
    {"hconcat": [
      {"title": "Singapore", "spacing": 26, "vconcat": [
        {"width": 405, "height": 132, "resolve": {"scale": {"y": "independent"}}, "layer": [
          {"data": {"name": "Sy"}, "mark": {"type": "line", "color": "#d01c1c"}, "encoding": {"x": {"field": "t", "type": "quantitative", "scale": {"domain": [2001.2, 2018.8], "nice": false}, "axis": {"values": [2002,2004,2006,2008,2010,2012,2014,2016,2018], "format": "d", "title": null}}, "y": {"field": "v", "type": "quantitative", "scale": {"domain": [1.2, 3.7], "nice": false, "zero": false}, "axis": {"title": "Bond Yield(%)", "titleColor": "#d01c1c", "format": ".1f"}}}},
          {"data": {"name": "Sr"}, "mark": {"type": "line", "color": "#1f6fb0"}, "encoding": {"x": {"field": "t", "type": "quantitative"}, "y": {"field": "v", "type": "quantitative", "scale": {"domain": [35.8, 47.3], "nice": false, "zero": false}, "axis": {"orient": "right", "title": "Resilience", "titleColor": "#1f6fb0"}}}}
        ]},
        {"width": 405, "height": 132, "resolve": {"scale": {"y": "independent"}}, "layer": [
          {"data": {"name": "Sy"}, "mark": {"type": "line", "color": "#d01c1c"}, "encoding": {"x": {"field": "t", "type": "quantitative", "scale": {"domain": [2001.2, 2018.8], "nice": false}, "axis": {"values": [2002,2004,2006,2008,2010,2012,2014,2016,2018], "format": "d", "title": null}}, "y": {"field": "v", "type": "quantitative", "scale": {"domain": [1.2, 3.7], "nice": false, "zero": false}, "axis": {"title": "Bond Yield(%)", "titleColor": "#d01c1c", "format": ".1f"}}}},
          {"data": {"name": "Su"}, "mark": {"type": "line", "color": "#2a9a2a"}, "encoding": {"x": {"field": "t", "type": "quantitative"}, "y": {"field": "v", "type": "quantitative", "scale": {"domain": [52.75, 53.42], "nice": false, "zero": false}, "axis": {"orient": "right", "title": "Vulnerability", "titleColor": "#2a9a2a", "format": ".1f"}}}}
        ]}
      ]},
      {"title": "Thailand", "spacing": 26, "vconcat": [
        {"width": 405, "height": 132, "resolve": {"scale": {"y": "independent"}}, "layer": [
          {"data": {"name": "Ty"}, "mark": {"type": "line", "color": "#d01c1c"}, "encoding": {"x": {"field": "t", "type": "quantitative", "scale": {"domain": [2001.2, 2018.8], "nice": false}, "axis": {"values": [2002,2004,2006,2008,2010,2012,2014,2016,2018], "format": "d", "title": null}}, "y": {"field": "v", "type": "quantitative", "scale": {"domain": [1.4, 6.8], "nice": false, "zero": false}, "axis": {"title": "Bond Yield(%)", "titleColor": "#d01c1c"}}}},
          {"data": {"name": "Tr"}, "mark": {"type": "line", "color": "#1f6fb0"}, "encoding": {"x": {"field": "t", "type": "quantitative"}, "y": {"field": "v", "type": "quantitative", "scale": {"domain": [21.5, 47.5], "nice": false, "zero": false}, "axis": {"orient": "right", "title": "Resilience", "titleColor": "#1f6fb0"}}}}
        ]},
        {"width": 405, "height": 132, "resolve": {"scale": {"y": "independent"}}, "layer": [
          {"data": {"name": "Ty"}, "mark": {"type": "line", "color": "#d01c1c"}, "encoding": {"x": {"field": "t", "type": "quantitative", "scale": {"domain": [2001.2, 2018.8], "nice": false}, "axis": {"values": [2002,2004,2006,2008,2010,2012,2014,2016,2018], "format": "d", "title": null}}, "y": {"field": "v", "type": "quantitative", "scale": {"domain": [1.4, 6.8], "nice": false, "zero": false}, "axis": {"title": "Bond Yield(%)", "titleColor": "#d01c1c"}}}},
          {"data": {"name": "Tu"}, "mark": {"type": "line", "color": "#2a9a2a"}, "encoding": {"x": {"field": "t", "type": "quantitative"}, "y": {"field": "v", "type": "quantitative", "scale": {"domain": [47.42, 47.79], "nice": false, "zero": false}, "axis": {"orient": "right", "title": "Vulnerability", "titleColor": "#2a9a2a", "values": [47.5, 47.6, 47.7], "format": ".1f"}}}}
        ]}
      ]}
    ]},
    {"title": "Viet Nam", "spacing": 26, "vconcat": [
      {"width": 435, "height": 132, "resolve": {"scale": {"y": "independent"}}, "layer": [
        {"data": {"name": "Vy"}, "mark": {"type": "line", "color": "#d01c1c"}, "encoding": {"x": {"field": "t", "type": "quantitative", "scale": {"domain": [2001.2, 2018.8], "nice": false}, "axis": {"values": [2002,2004,2006,2008,2010,2012,2014,2016,2018], "format": "d", "title": null}}, "y": {"field": "v", "type": "quantitative", "scale": {"domain": [4.5, 16.5], "nice": false, "zero": false}, "axis": {"title": "Bond Yield(%)", "titleColor": "#d01c1c", "values": [6,8,10,12,14,16]}}}},
        {"data": {"name": "Vr"}, "mark": {"type": "line", "color": "#1f6fb0"}, "encoding": {"x": {"field": "t", "type": "quantitative"}, "y": {"field": "v", "type": "quantitative", "scale": {"domain": [15.8, 26.6], "nice": false, "zero": false}, "axis": {"orient": "right", "title": "Resilience", "titleColor": "#1f6fb0"}}}}
      ]},
      {"width": 435, "height": 132, "resolve": {"scale": {"y": "independent"}}, "layer": [
        {"data": {"name": "Vy"}, "mark": {"type": "line", "color": "#d01c1c"}, "encoding": {"x": {"field": "t", "type": "quantitative", "scale": {"domain": [2001.2, 2018.8], "nice": false}, "axis": {"values": [2002,2004,2006,2008,2010,2012,2014,2016,2018], "format": "d", "title": null}}, "y": {"field": "v", "type": "quantitative", "scale": {"domain": [4.5, 16.5], "nice": false, "zero": false}, "axis": {"title": "Bond Yield(%)", "titleColor": "#d01c1c", "values": [6,8,10,12,14,16]}}}},
        {"data": {"name": "Vu"}, "mark": {"type": "line", "color": "#2a9a2a"}, "encoding": {"x": {"field": "t", "type": "quantitative"}, "y": {"field": "v", "type": "quantitative", "scale": {"domain": [52.04, 52.67], "nice": false, "zero": false}, "axis": {"orient": "right", "title": "Vulnerability", "titleColor": "#2a9a2a", "format": ".1f"}}}}
      ]}
    ]}
  ],
  "center": true,
  "spacing": 24,
  "config": {
    "font": "DejaVu Sans",
    "concat": {"spacing": 80},
    "view": {"stroke": "black", "strokeWidth": 1},
    "line": {"strokeWidth": 1.6},
    "title": {"fontSize": 22, "fontWeight": "bold", "font": "Liberation Sans", "anchor": "middle", "offset": 8},
    "axis": {"grid": false, "labelFontSize": 10, "titleFontSize": 14, "titleFontWeight": "normal", "domainColor": "black", "tickColor": "black", "labelColor": "black", "titlePadding": 4}
  }
}
